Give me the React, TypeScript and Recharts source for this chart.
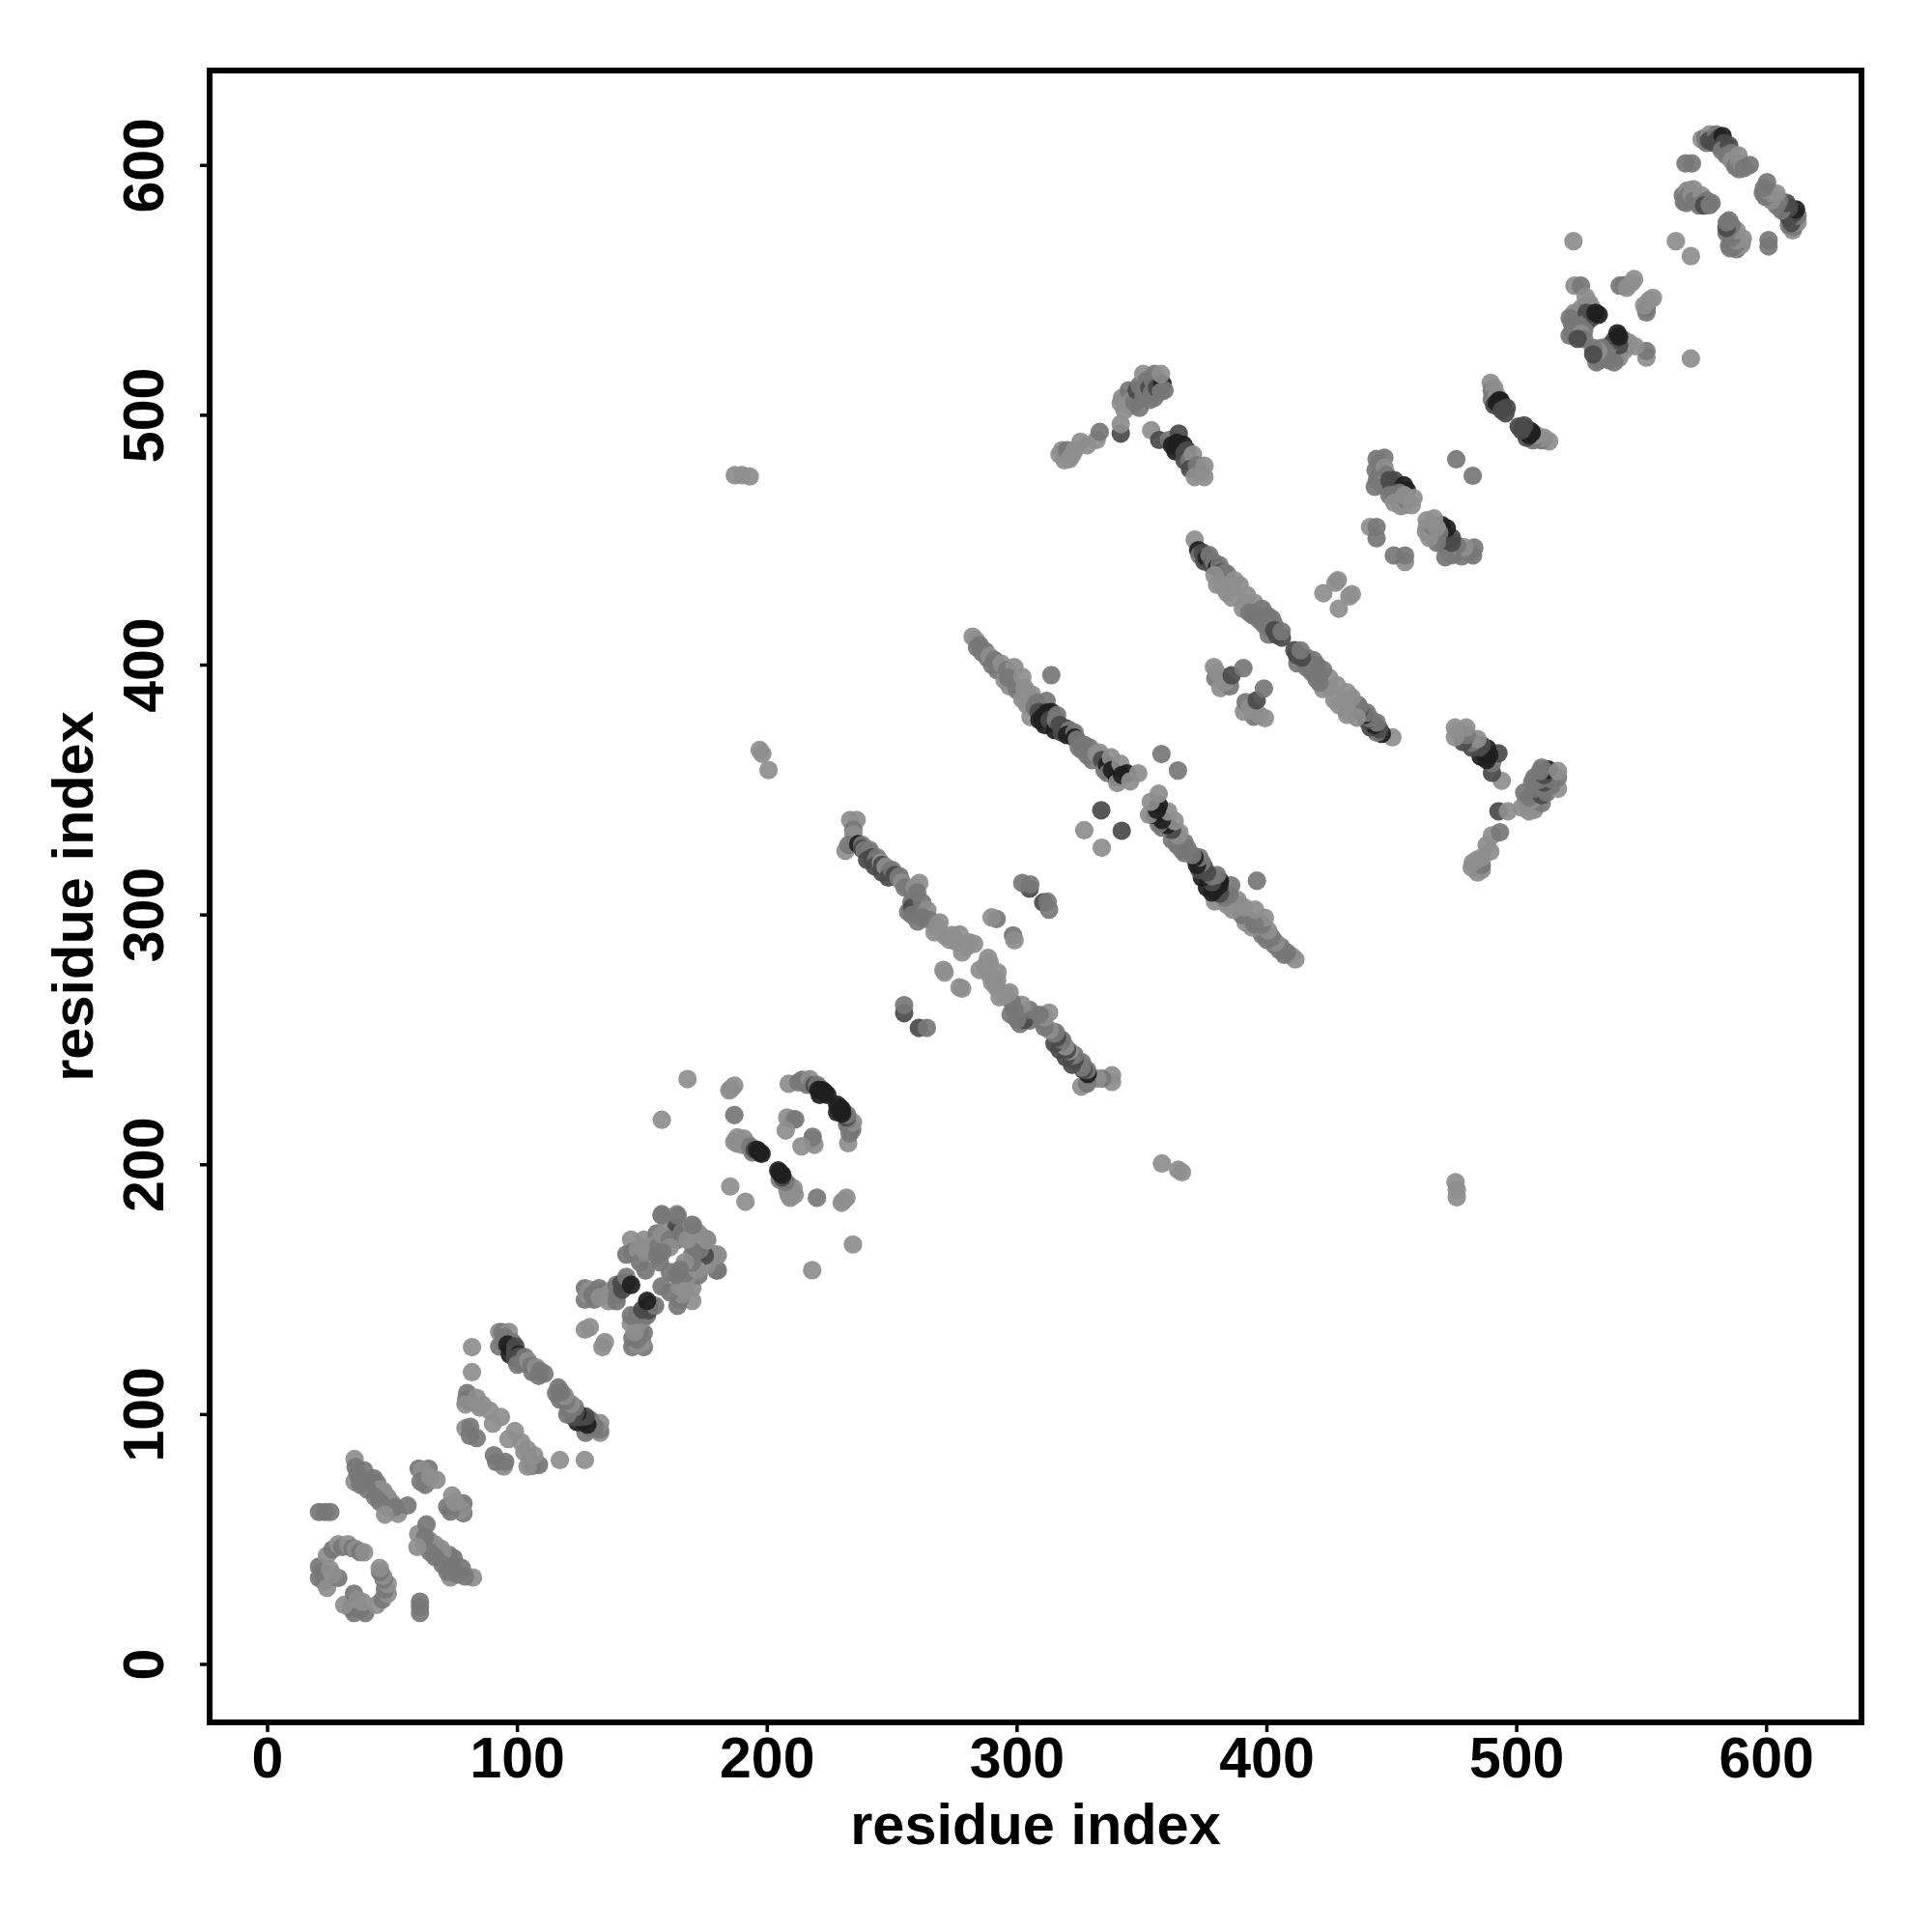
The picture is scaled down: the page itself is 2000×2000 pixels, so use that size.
import { ScatterChart, Scatter, XAxis, YAxis, ReferenceArea, Label } from 'recharts'

type Contact = [number, number, number]

// grey of a contact, 0 = weakest
const GRAYS = ['#8e8e8e', '#777777', '#4a4a4a', '#1f1f1f']
const FONT = '"Liberation Sans", Arial, sans-serif'
const AXIS_TICKS = [0, 100, 200, 300, 400, 500, 600]
const AXIS_MIN = -23.2
const AXIS_MAX = 638

const ring: Contact[] = [
  [20.6, 39.1, 1], [21.9, 37.2, 1], [20.6, 34.6, 1], [22.5, 33.3, 1], [23.8, 30.7, 0], [23.8, 43.6, 0],
  [26, 46, 1], [28.3, 48.1, 0], [30, 47, 1], [32.2, 48.1, 0], [34, 46.5, 1], [35.4, 46.2, 0], [37, 45, 1],
  [38.6, 44.9, 0], [25, 38, 0], [28.3, 34.6, 1], [26, 36, 0], [20.6, 61, 1], [23, 61, 1], [25.1, 61, 1],
]
const strandA: Contact[] = [
  [34.8, 82.2, 0], [35.2, 79, 1], [34.8, 73.2, 0], [36, 76, 1], [38.6, 77.7, 1], [41.2, 73.2, 1], [42.5, 74.5, 1],
  [43.8, 72.6, 1], [45, 70, 0], [46.4, 69.4, 0], [47.6, 62.9, 0], [48, 67, 0], [49.6, 64.8, 0], [52.2, 60.3, 0],
  [51, 63, 1], [56, 63.6, 1], [60.5, 78.4, 1], [64.4, 78.4, 1], [61.8, 77.7, 0], [61.2, 73.2, 1], [63.1, 71.9, 1],
  [67.6, 73.9, 0], [65, 75, 0], [37, 72, 1], [40, 70, 1], [43, 67, 1], [45, 65, 1], [47, 60, 0],
]
const strandB: Contact[] = [
  [92.7, 133.1, 0], [94, 133, 1], [96.6, 133.1, 0], [92.7, 127.3, 1], [94.5, 129, 1], [95, 131, 1], [98, 129, 1], [96, 128, 3],
  [97.5, 126.5, 3], [97, 124, 3], [99, 125, 2], [99.2, 127.3, 2], [100.5, 124, 3], [99, 122.5, 2], [101, 123.4, 2], [103, 123, 1],
  [102, 120.5, 1], [100, 120, 1], [104.3, 121.5, 0], [105.5, 119.5, 1], [106, 117, 1], [107.5, 119, 0], [108.5, 115.5, 1], [109, 117.5, 1],
  [110.8, 116.4, 1], [81.8, 127, 0], [81.8, 117, 0], [79.9, 108.6, 1], [79.5, 106, 1], [81, 105, 1], [83.7, 106.7, 0], [79.2, 104.1, 0],
  [85, 102.8, 0], [86, 104, 0], [88.9, 101.6, 0], [90.2, 96.4, 0], [93.4, 99, 0], [79.2, 94.5, 0], [81.1, 95.1, 1], [83.7, 90.6, 1], [81, 91.5, 1],
]
const clusterC: Contact[] = [
  [127, 150.6, 1], [127, 146, 1], [128, 148, 0], [129, 150, 0], [130, 148, 1], [130.7, 146, 1], [132.7, 150.6, 1], [134, 149, 1], [133, 147, 0],
  [136, 148, 0], [136.5, 145.4, 0], [139.7, 145.4, 1], [138, 150, 0], [140, 148, 1], [139.7, 151.9, 1], [142, 150, 2], [141.7, 152.5, 2],
  [144, 153, 2], [143.6, 155.1, 1], [145.5, 151.9, 3], [127, 134, 0], [129, 135, 0], [145.5, 170, 0], [143.6, 164.1, 1], [146, 165, 1],
  [148.1, 166, 0], [149, 161, 1], [150.7, 170, 0], [150, 167, 0], [151.3, 164.8, 0], [151.3, 157.7, 1], [153, 168, 0], [155.8, 172.5, 1],
  [155, 168, 0], [156.5, 167.3, 1], [155.8, 163.5, 1], [157, 161, 1], [157.8, 180.2, 1], [163.8, 180.2, 0], [160, 176, 0], [163.6, 175, 2],
  [163.8, 172, 2], [163.8, 169.9, 1], [158, 172, 0], [161, 170, 1], [161, 167, 0], [158, 165, 1], [166, 173, 1], [169.8, 176, 0], [172, 173, 0],
  [170, 168, 0], [175.8, 170.2, 1], [179.7, 164.1, 1], [179.7, 157.7, 1],
]
const clusterD: Contact[] = [
  [186.8, 209.2, 0], [188, 211, 0], [188, 208.5, 0], [190, 208, 0], [190.6, 210.5, 0], [192, 208.5, 0], [193.2, 207.3, 1], [194, 205, 1],
  [195, 206, 2], [196, 206, 3], [197, 205, 3], [197.7, 204.4, 3], [168.1, 234.3, 0], [157.8, 218, 0], [184.8, 229.8, 0], [185.5, 230.4, 0],
  [186.8, 231.7, 0], [186.8, 219.9, 1], [185.2, 191.3, 0], [208.6, 232.4, 0], [212.5, 233, 1], [214, 234, 1], [215, 233, 1], [216, 232, 1],
  [217, 234.3, 0], [218, 232, 1], [219, 231.7, 2], [220, 232, 1], [220.5, 230, 3], [221, 228, 3], [221.5, 229.5, 3], [222.2, 229.8, 3],
  [223, 229, 3], [224, 228, 3], [208, 218.9, 0], [210, 218, 0], [211.2, 218.2, 1], [207.4, 213.7, 0],
]
const strandE: Contact[] = [
  [233.2, 338, 0], [235.8, 338, 0], [234.5, 334, 1], [234.5, 332.2, 0], [231.3, 325.7, 0], [232.5, 328, 1], [236.4, 328.3, 3], [238, 328, 1],
  [238, 326.5, 2], [239, 326, 1], [240.9, 324.4, 0], [241, 326, 1], [240, 322, 2], [242, 323, 2], [243.5, 321.5, 1], [244, 323, 1], [243, 319.5, 2],
  [245.5, 321, 0], [246, 320, 2], [246, 317, 2], [247.4, 319.3, 0], [249, 317.5, 1], [248.5, 315, 2], [250, 318, 1], [251, 316, 2], [252.5, 314.8, 1],
  [253, 315.5, 1], [254, 313, 0], [255, 311, 1], [258, 309, 1], [259, 311, 0], [260.9, 312.8, 0], [257.7, 305.1, 1], [256.4, 301.2, 1], [258, 303, 2],
  [258, 300, 1], [260, 309, 1], [262, 305, 1], [264.1, 301.9, 0], [260.2, 297.4, 1], [262, 299, 1], [265, 298, 1], [267, 293, 0], [268, 295.4, 0],
  [269, 297, 0], [271.2, 291.6, 0], [273, 290, 0], [274, 292, 0], [276, 289, 0], [277, 292.2, 0], [278, 285, 0], [279.6, 287.1, 0], [281, 289, 0],
  [282.8, 288.4, 0], [270.5, 278, 0], [271, 277, 0], [254.8, 260.7, 2], [254.8, 263.9, 1], [291.8, 298.4, 1], [289.8, 299, 0], [305, 310.5, 2],
  [302.1, 312.8, 1], [305.3, 312.2, 1],
]
const strandF: Contact[] = [
  [282.2, 411.4, 0], [283.5, 410, 0], [284, 407, 1], [285, 408, 1], [286, 405, 1], [287.3, 405.6, 1], [288, 403, 1], [289, 403.5, 0], [290, 400, 1],
  [291, 402, 1], [292, 398, 1], [293.8, 400.5, 0], [295, 394, 0], [296, 398, 1], [297, 391.5, 0], [298, 393, 0], [298.9, 399.2, 0], [296.3, 395, 1],
  [300, 390, 1], [302.1, 395.3, 0], [303, 391, 0], [302.1, 386.3, 0], [304, 389, 0], [304, 384, 0], [306, 388.2, 0], [305.4, 379.2, 0], [308, 385, 1],
  [307, 383, 1], [311.8, 385.7, 1], [308.6, 381.2, 2], [309, 378, 3], [310, 379, 3], [311, 376, 3], [312, 381, 3], [313.7, 381.2, 3], [314.4, 376.7, 3],
  [313, 378, 2], [315, 374, 3], [316, 380, 1], [315.5, 378, 1], [317, 376, 2], [318, 373, 2], [319.5, 374.7, 2], [321, 374, 1], [320, 372, 3], [323, 373, 1],
  [323, 371, 3], [324, 370.2, 1], [324.7, 367, 1], [326, 366, 1], [327, 368, 1], [328, 364, 1], [329, 367, 1], [330, 362, 1], [331.8, 364.4, 0], [333, 365, 0],
  [334, 362, 2], [335, 358, 1], [336, 360, 3], [336.3, 356.7, 1], [337.6, 363.1, 0], [338, 358, 3], [340, 355, 3], [341.4, 360.5, 0], [340.1, 352.8, 0],
  [342, 356, 3], [344, 356.7, 3], [345.3, 353.5, 0], [348.5, 356.7, 0], [313.7, 396, 1], [333.7, 341.9, 2], [326.9, 333.9, 0], [357.8, 364.4, 1],
]
const clusterG: Contact[] = [
  [378.8, 399.2, 0], [379.4, 394.7, 1], [381.4, 390.8, 0], [385.2, 391.5, 1], [380, 397, 0], [383, 393, 0], [385.9, 395.9, 2],
  [390.6, 398.8, 1], [422.6, 428.8, 0], [428.4, 434, 0], [427.5, 433, 0], [197, 366, 0], [198, 364.5, 0], [200.5, 358, 0],
  [187, 476, 0], [190, 476, 0], [193, 475.5, 0],
]
const strandH: Contact[] = [
  [371.1, 450.2, 0], [372.5, 446, 3], [373, 444, 1], [374.3, 445, 2], [375, 441.5, 2], [376, 443, 3], [377, 444, 1], [378, 440, 2], [378.8, 441.2, 1],
  [380, 439, 3], [381, 440, 1], [382, 437, 2], [383, 437, 1], [384, 436.6, 1], [379, 436, 0], [380.1, 432.1, 0], [382, 432, 0], [384, 428.9, 0], [386, 431, 0],
  [386, 427, 0], [387, 434, 0], [389.1, 432.1, 0], [391, 425, 0], [392, 428, 0], [394.9, 425, 0], [390.4, 422.5, 0], [393, 421, 1], [394.3, 419.9, 1], [396, 421, 1],
  [397, 418, 1], [398.1, 422.5, 1], [399, 416, 1], [399, 419, 1], [400, 420, 1], [401, 415, 1], [402, 418.6, 1], [400.7, 412.2, 1], [403, 416, 1], [403, 414, 2],
  [404, 412, 2], [406, 411, 2], [405.9, 413.5, 1],
]
const armJ: Contact[] = [
  [317, 484.3, 0], [318, 486, 0], [319, 482, 0], [320, 486, 1], [320.9, 482.4, 0], [322, 484, 0], [323, 486, 0], [325.4, 489.4, 0], [328, 488, 0], [331.8, 490.1, 0],
  [333.1, 493.3, 1], [341.5, 492.7, 2], [341.5, 496.5, 0], [341.5, 504.9, 0], [342, 507, 0], [343, 502, 0], [344, 507, 0], [344.7, 510, 1], [346, 506, 0], [345.3, 503.6, 0],
  [347, 505, 1], [347.9, 510, 2], [349, 503, 1], [349, 512, 1], [350.5, 516.5, 0], [350.5, 507.5, 1], [351, 510, 1], [352, 514, 1], [353, 511, 2], [353.1, 506.2, 1],
  [354, 509, 1], [354.3, 513.9, 1], [355, 516.5, 1], [355, 507, 1], [356, 511, 2], [358.2, 512.6, 3], [359, 510, 1], [357.6, 509.4, 1], [357.6, 516.5, 0], [353.7, 494, 0],
  [356.9, 490.1, 2], [360.8, 490.1, 1], [364.7, 492.7, 2], [362, 488, 3], [363.4, 485.6, 3], [364, 489, 3], [366.6, 488.2, 3], [365, 487, 3], [367, 485, 2], [368, 486, 2],
  [367, 482, 2], [369, 482, 1], [370.4, 484.3, 0], [369.2, 478.5, 2], [372, 480, 1], [373, 477, 1], [375, 479.8, 0], [371.1, 475.3, 0], [375, 475.3, 0],
]
const clusterK: Contact[] = [
  [443.9, 482.5, 1], [445, 481, 1], [447, 483, 1], [443.5, 478, 1], [445, 476, 1], [447.1, 479.1, 0], [448, 476, 1], [444, 474, 1], [446, 472, 0], [443.2, 471.4, 1],
  [449, 474, 2], [450, 471, 2], [451, 474, 2], [452, 471, 2], [449, 468, 1], [451, 468, 1], [454.8, 472, 3], [456, 470, 3], [453, 469, 1], [451, 465, 0], [453.5, 463.7, 0],
  [455, 464, 0], [456, 466, 1], [458, 464, 0], [458.7, 466.9, 0], [455, 468, 0], [441.3, 455.3, 0], [443.9, 455.3, 1], [443.9, 450.8, 1], [475.8, 482.4, 1],
]
const strandL: Contact[] = [
  [489.6, 513, 0], [490, 510, 1], [491, 511, 0], [490, 506.5, 1], [492, 508, 0], [491, 504, 2], [493, 506, 3], [492, 505, 3], [493.6, 505.7, 3], [494.5, 504, 3],
  [494, 502, 2], [496, 503, 2], [495.5, 500.8, 2],
]
const clusterM: Contact[] = [
  [523.1, 551.9, 0], [525.7, 551.9, 1], [527.6, 547.4, 0], [529, 545, 0], [526, 543, 0], [524.4, 540.9, 1], [523, 541, 0], [521.2, 539, 1], [522, 537, 1], [526, 538, 1],
  [530.2, 542.9, 0], [528, 541, 2], [528, 537, 1], [530, 539, 2], [532.8, 540.3, 3], [531.5, 541, 3], [524, 535, 1], [525, 536, 1], [522, 533, 1], [521.2, 531.9, 1],
  [523, 534, 1], [527, 534, 1], [525.7, 532.6, 0], [527, 530.5, 1], [524.4, 530.6, 2], [541.2, 551.9, 1], [543, 552, 1], [544, 551, 0], [546, 553, 0], [547, 554.5, 0], [522.7, 569.7, 0],
]
const clusterN: Contact[] = [
  [574, 610.5, 0], [575.5, 611, 1], [576, 609, 1], [577.2, 612.4, 0], [577, 610, 2], [579.8, 612.4, 1], [579, 609, 2], [581, 611, 2], [581, 608, 2], [582.4, 611.8, 3], [583, 609, 2],
  [583.7, 607.9, 2], [582, 606, 1], [585, 608, 2], [584, 604, 1], [586, 605, 1], [586, 602, 0], [588.8, 604, 0], [587.5, 599.5, 1], [589, 601, 0], [589, 598.5, 1], [590, 600.5, 0],
  [591, 599, 1], [593.3, 600.2, 1], [567.6, 600.8, 1], [570.1, 600.8, 1], [566.9, 585.4, 1], [566.5, 588, 1], [568, 585, 1], [568.2, 589.9, 0], [569, 590, 0], [568, 587, 1],
  [569, 588, 1], [570.8, 590.5, 0], [570, 588, 0], [571, 586, 1], [572.7, 586, 1], [574, 588, 0], [573, 584, 1], [576, 586, 1], [575, 584, 2], [578, 585, 1], [577.2, 584.1, 1], [563.7, 569.7, 0],
]

const blocks = [ring, strandA, strandB, clusterC, clusterD, strandE, strandF, clusterG, strandH, armJ, clusterK, strandL, clusterM, clusterN]

const points = blocks.flatMap((block) => [
  ...block.map(([x, y, tone]) => ({ x, y, tone })),
  ...block.map(([x, y, tone]) => ({ x: y, y: x, tone })),
])

const Dot = (props: any) => (
  <circle cx={props.cx} cy={props.cy} r={9.6} fill={GRAYS[props.payload?.tone ?? props.tone ?? 0]} fillOpacity={0.93} />
)

const XTick = ({ x, y, payload }: any) => (
  <text x={x} y={y + 45} textAnchor="middle" fontFamily={FONT} fontWeight={700} fontSize={59} fill="#000">
    {payload.value}
  </text>
)

const YTick = ({ x, y, payload }: any) => (
  <text x={x - 36} y={y} transform={`rotate(-90 ${x - 36} ${y})`} textAnchor="middle" fontFamily={FONT} fontWeight={700} fontSize={59} fill="#000">
    {payload.value}
  </text>
)

const titleStyle = { fontFamily: FONT, fontWeight: 700, fontSize: 59.5, fill: '#000' }

export default function App() {
  return (
    <div style={{ position: 'absolute', left: 0, top: 0, width: 2000, height: 2000, background: '#fff' }}>
      <ScatterChart width={2000} height={2000} margin={{ top: 73, right: 73, bottom: 87, left: 57 }}>
        <XAxis
          type="number"
          dataKey="x"
          domain={[AXIS_MIN, AXIS_MAX]}
          ticks={AXIS_TICKS}
          height={130}
          allowDataOverflow
          axisLine={false}
          tickLine={{ stroke: '#000', strokeWidth: 3.5 }}
          tickSize={10}
          tick={<XTick />}
          interval={0}
        >
          <Label value="residue index" position="insideBottom" offset={4} style={titleStyle} />
        </XAxis>
        <YAxis
          type="number"
          dataKey="y"
          domain={[AXIS_MIN, AXIS_MAX]}
          ticks={AXIS_TICKS}
          width={160}
          allowDataOverflow
          axisLine={false}
          tickLine={{ stroke: '#000', strokeWidth: 3.5 }}
          tickSize={10}
          tick={<YTick />}
          interval={0}
        >
          <Label value="residue index" angle={-90} position="insideLeft" offset={18} style={{ ...titleStyle, textAnchor: 'middle' }} />
        </YAxis>
        <Scatter data={points} shape={<Dot />} isAnimationActive={false} />
        <ReferenceArea x1={AXIS_MIN} x2={AXIS_MAX} y1={AXIS_MIN} y2={AXIS_MAX} fill="none" stroke="#000" strokeWidth={6} ifOverflow="extendDomain" />
      </ScatterChart>
    </div>
  )
}
